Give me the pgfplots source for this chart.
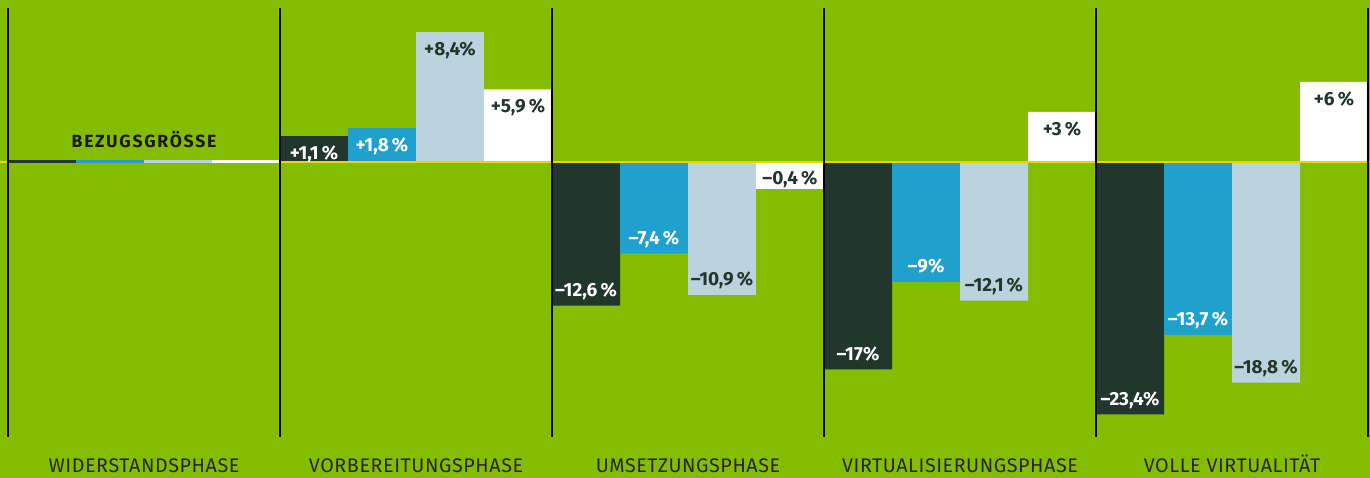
\documentclass[border=0pt]{standalone}
\usepackage{fontspec}
\setmainfont{Fira Sans}
\usepackage{pgfplots}
\pgfplotsset{compat=1.18}

\definecolor{bg}{HTML}{84BD00}
\definecolor{dunkel}{HTML}{22362D}
\definecolor{blau}{HTML}{1FA0CD}
\definecolor{hell}{HTML}{BBD3DD}
\definecolor{gelb}{HTML}{F5D000}

\begin{document}
\begin{tikzpicture}
\useasboundingbox (0,0) rectangle (342.5mm,119.5mm);
\fill[bg] (0,0) rectangle (342.5mm,119.5mm);
\begin{axis}[
    at={(2mm,10.25mm)}, anchor=south west,
    scale only axis,
    width=340mm, height=107.25mm,
    xmin=0, xmax=20,
    ymin=-27.5, ymax=15.4,
    axis line style={draw=none},
    ytick=\empty,
    xtick={2,6,10,14,18},
    xticklabels={WIDERSTANDSPHASE, VORBEREITUNGSPHASE, UMSETZUNGSPHASE,
        VIRTUALISIERUNGSPHASE, VOLLE VIRTUALITÄT},
    major tick length=0pt,
    xticklabel style={anchor=base, yshift=-9.0mm, text=black!85,
        font=\fontsize{14}{16}\selectfont\addfontfeatures{LetterSpace=3}},
    clip=false,
    point meta=explicit symbolic,
    balken/.style={ybar, bar width=1, bar shift=0pt, draw=none, fill=#1,
        nodes near coords,
        every node near coord/.append style={inner sep=0pt,
            font=\fontsize{13.5}{15}\selectfont\bfseries}},
    oben/.style={every node near coord/.append style={anchor=north, yshift=-2.3mm}},
    unten/.style={every node near coord/.append style={anchor=base, yshift=2.3mm}},
]
    % positive Balken
    \addplot[balken=dunkel, oben, nodes near coords style={text=white}] coordinates {
        (4.5,2.57) [+1,1\,\%]
    };
    \addplot[balken=blau, oben, nodes near coords style={text=white}] coordinates {
        (5.5,3.40) [+1,8\,\%]
    };
    \addplot[balken=hell, oben, nodes near coords style={text=dunkel}] coordinates {
        (6.5,12.97) [+8,4\%]
    };
    \addplot[balken=white, oben, nodes near coords style={text=dunkel}] coordinates {
        (7.5,7.27) [+5,9\,\%]
        (15.5,5.0) [+3\,\%]
        (19.5,8.0) [+6\,\%]
    };
    % negative Balken
    \addplot[balken=dunkel, unten, nodes near coords style={text=white}] coordinates {
        (8.5,-14.37) [–12,6\,\%]
        (12.5,-20.73) [–17\%]
        (16.5,-25.23) [–23,4\%]
    };
    \addplot[balken=blau, unten, nodes near coords style={text=white}] coordinates {
        (9.5,-9.17) [–7,4\,\%]
        (13.5,-12.0) [–9\%]
        (17.5,-17.3) [–13,7\,\%]
    };
    \addplot[balken=hell, unten, nodes near coords style={text=dunkel}] coordinates {
        (10.5,-13.30) [–10,9\,\%]
        (14.5,-13.87) [–12,1\,\%]
        (18.5,-22.07) [–18,8\,\%]
    };
    \addplot[balken=white, nodes near coords style={text=dunkel},
        every node near coord/.append style={anchor=base, yshift=1.1mm}] coordinates {
        (11.5,-2.67) [–0,4\,\%]
    };

    % Nulllinie
    \addplot[gelb, line width=0.65mm] coordinates {(-0.118,0) (20.03,0)};
    % Bezugsgroesse
    \addplot[dunkel, line width=0.75mm] coordinates {(0,0) (1,0)};
    \addplot[blau, line width=0.75mm] coordinates {(1,0) (2,0)};
    \addplot[hell, line width=0.75mm] coordinates {(2,0) (3,0)};
    \addplot[white, line width=0.75mm] coordinates {(3,0) (4,0)};

    \pgfplotsinvokeforeach{0,4,8,12,16,20}{
        \draw[black, line width=0.4mm] (axis cs:#1,-27.5) -- (axis cs:#1,15.4);
    }
    \node[anchor=base, yshift=3.7mm, inner sep=0pt, text=black!90,
        font=\fontsize{12.5}{14}\selectfont\bfseries\addfontfeatures{LetterSpace=10}]
        at (axis cs:2,0) {BEZUGSGRÖSSE};
\end{axis}
\end{tikzpicture}
\end{document}
